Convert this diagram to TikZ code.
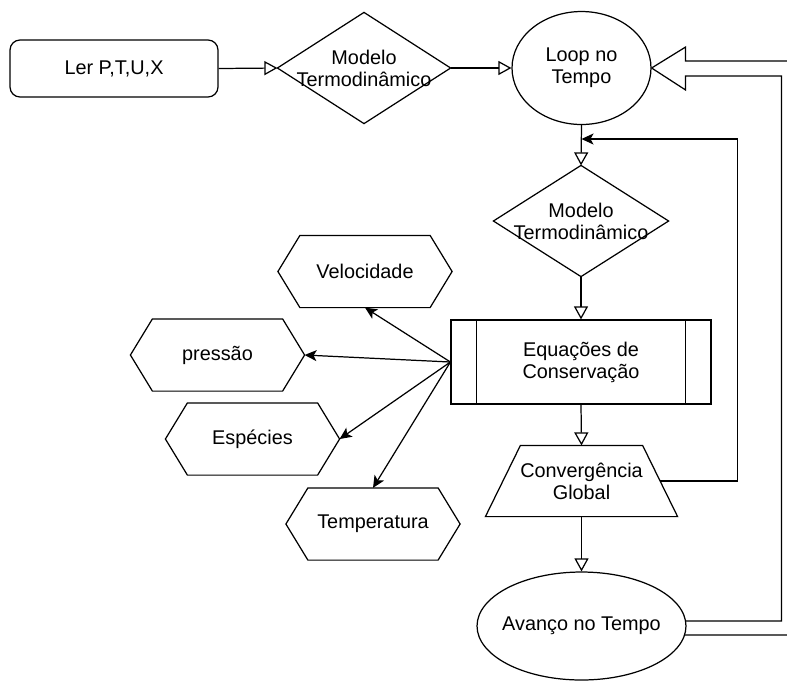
\documentclass[tikz,border=0pt]{standalone}
\usepackage{fontspec}
\setmainfont{Liberation Sans}
\usetikzlibrary{arrows.meta,calc}

\tikzset{
  rotulo/.style={font=\fontsize{11.3}{12.5}\selectfont, align=center, inner sep=0pt},
  aberta/.style={-{Triangle[open,length=2.6mm,width=2.8mm]}},
  cheia/.style={-{Stealth[length=2.4mm,width=2.2mm,inset=0.6mm]}},
}

\begin{document}
\begin{tikzpicture}[x=0.02cm,y=-0.02cm,line width=0.7pt]
        \clip (0,0) rectangle (787,681);

        \node[rotulo,draw,rounded corners=0.2cm,minimum width=4.16cm,minimum height=1.14cm] (ler) at (114,68.5) {Ler P,T,U,X};
        \node[rotulo,minimum width=3.44cm,minimum height=2.2cm] (modelo1) at (364,68) {Modelo\\Termodinâmico};
        \node[rotulo,minimum width=2.78cm,minimum height=2.26cm] (loop) at (581.5,68) {Loop no\\Tempo};
        \node[rotulo,minimum width=3.48cm,minimum height=2.2cm] (modelo2) at (581,221) {Modelo\\Termodinâmico};
        \node[rotulo,draw,minimum width=5.2cm,minimum height=1.68cm] (eq) at (581,362) {Equações de\\Conservação};
        \node[rotulo,minimum width=3.82cm,minimum height=1.4cm] (conv) at (581.5,481) {Convergência\\Global};
        \node[rotulo,minimum width=4.18cm,minimum height=2.16cm] (avanco) at (581.5,626) {Avanço no Tempo};

        \node[rotulo,minimum width=3.46cm,minimum height=1.42cm] (vel) at (365,271.5) {Velocidade};
        \node[rotulo,minimum width=3.46cm,minimum height=1.42cm] (pre) at (217.5,355) {pressão};
        \node[rotulo,minimum width=3.46cm,minimum height=1.42cm] (esp) at (252.5,439) {Espécies};
        \node[rotulo,minimum width=3.46cm,minimum height=1.42cm] (tem) at (373,524) {Temperatura};

        % formas
        \foreach \n in {modelo1,modelo2}
          \draw (\n.west) -- (\n.north) -- (\n.east) -- (\n.south) -- cycle;
        \draw (loop) ellipse [x radius=1.39cm, y radius=1.13cm];
        \draw (avanco) ellipse [x radius=2.09cm, y radius=1.08cm];
        \draw ($(eq.north west)+(26,0)$) -- ($(eq.south west)+(26,0)$);
        \draw ($(eq.north east)+(-26,0)$) -- ($(eq.south east)+(-26,0)$);
        \draw (conv.south west) -- (conv.south east) -- ($(conv.north east)+(-35,0)$) -- ($(conv.north west)+(35,0)$) -- cycle;
        \foreach \n in {vel,pre,esp,tem}
          \draw (\n.west) -- ($(\n.north west)+(22,0)$) -- ($(\n.north east)+(-22,0)$) -- (\n.east)
                -- ($(\n.south east)+(-22,0)$) -- ($(\n.south west)+(22,0)$) -- cycle;

        \coordinate (convdir) at ($(conv.east)+(-17.5,0)$);
        \coordinate (retorno) at (581.5,139);

        % setas
        \draw[aberta] (ler.east) -- (modelo1.west);
        \draw[aberta] (modelo1.east) -- (loop.west);
        \draw[aberta] (loop.south) -- (modelo2.north);
        \draw[aberta] (modelo2.south) -- (eq.north);
        \draw[aberta] (eq.south) -- (conv.north);
        \draw[aberta] (conv.south) -- (avanco.north);
        \draw[cheia] (convdir) -- ++(77.5,0) |- (retorno);

        \foreach \alvo/\ponto in {vel/south,pre/east,esp/east,tem/north}
          \draw[cheia] (eq.west) -- (\alvo.\ponto);

        % seta larga de volta
        \draw (loop.east) -- ++(34,-21) -- ++(0,14) -- ++(111,0) |- ($(avanco.east)+(-2,9)$);
        \draw (loop.east) -- ++(34,22) -- ++(0,-14) -- ++(96,0) |- ($(avanco.east)+(-1,-5)$);

\end{tikzpicture}
\end{document}
